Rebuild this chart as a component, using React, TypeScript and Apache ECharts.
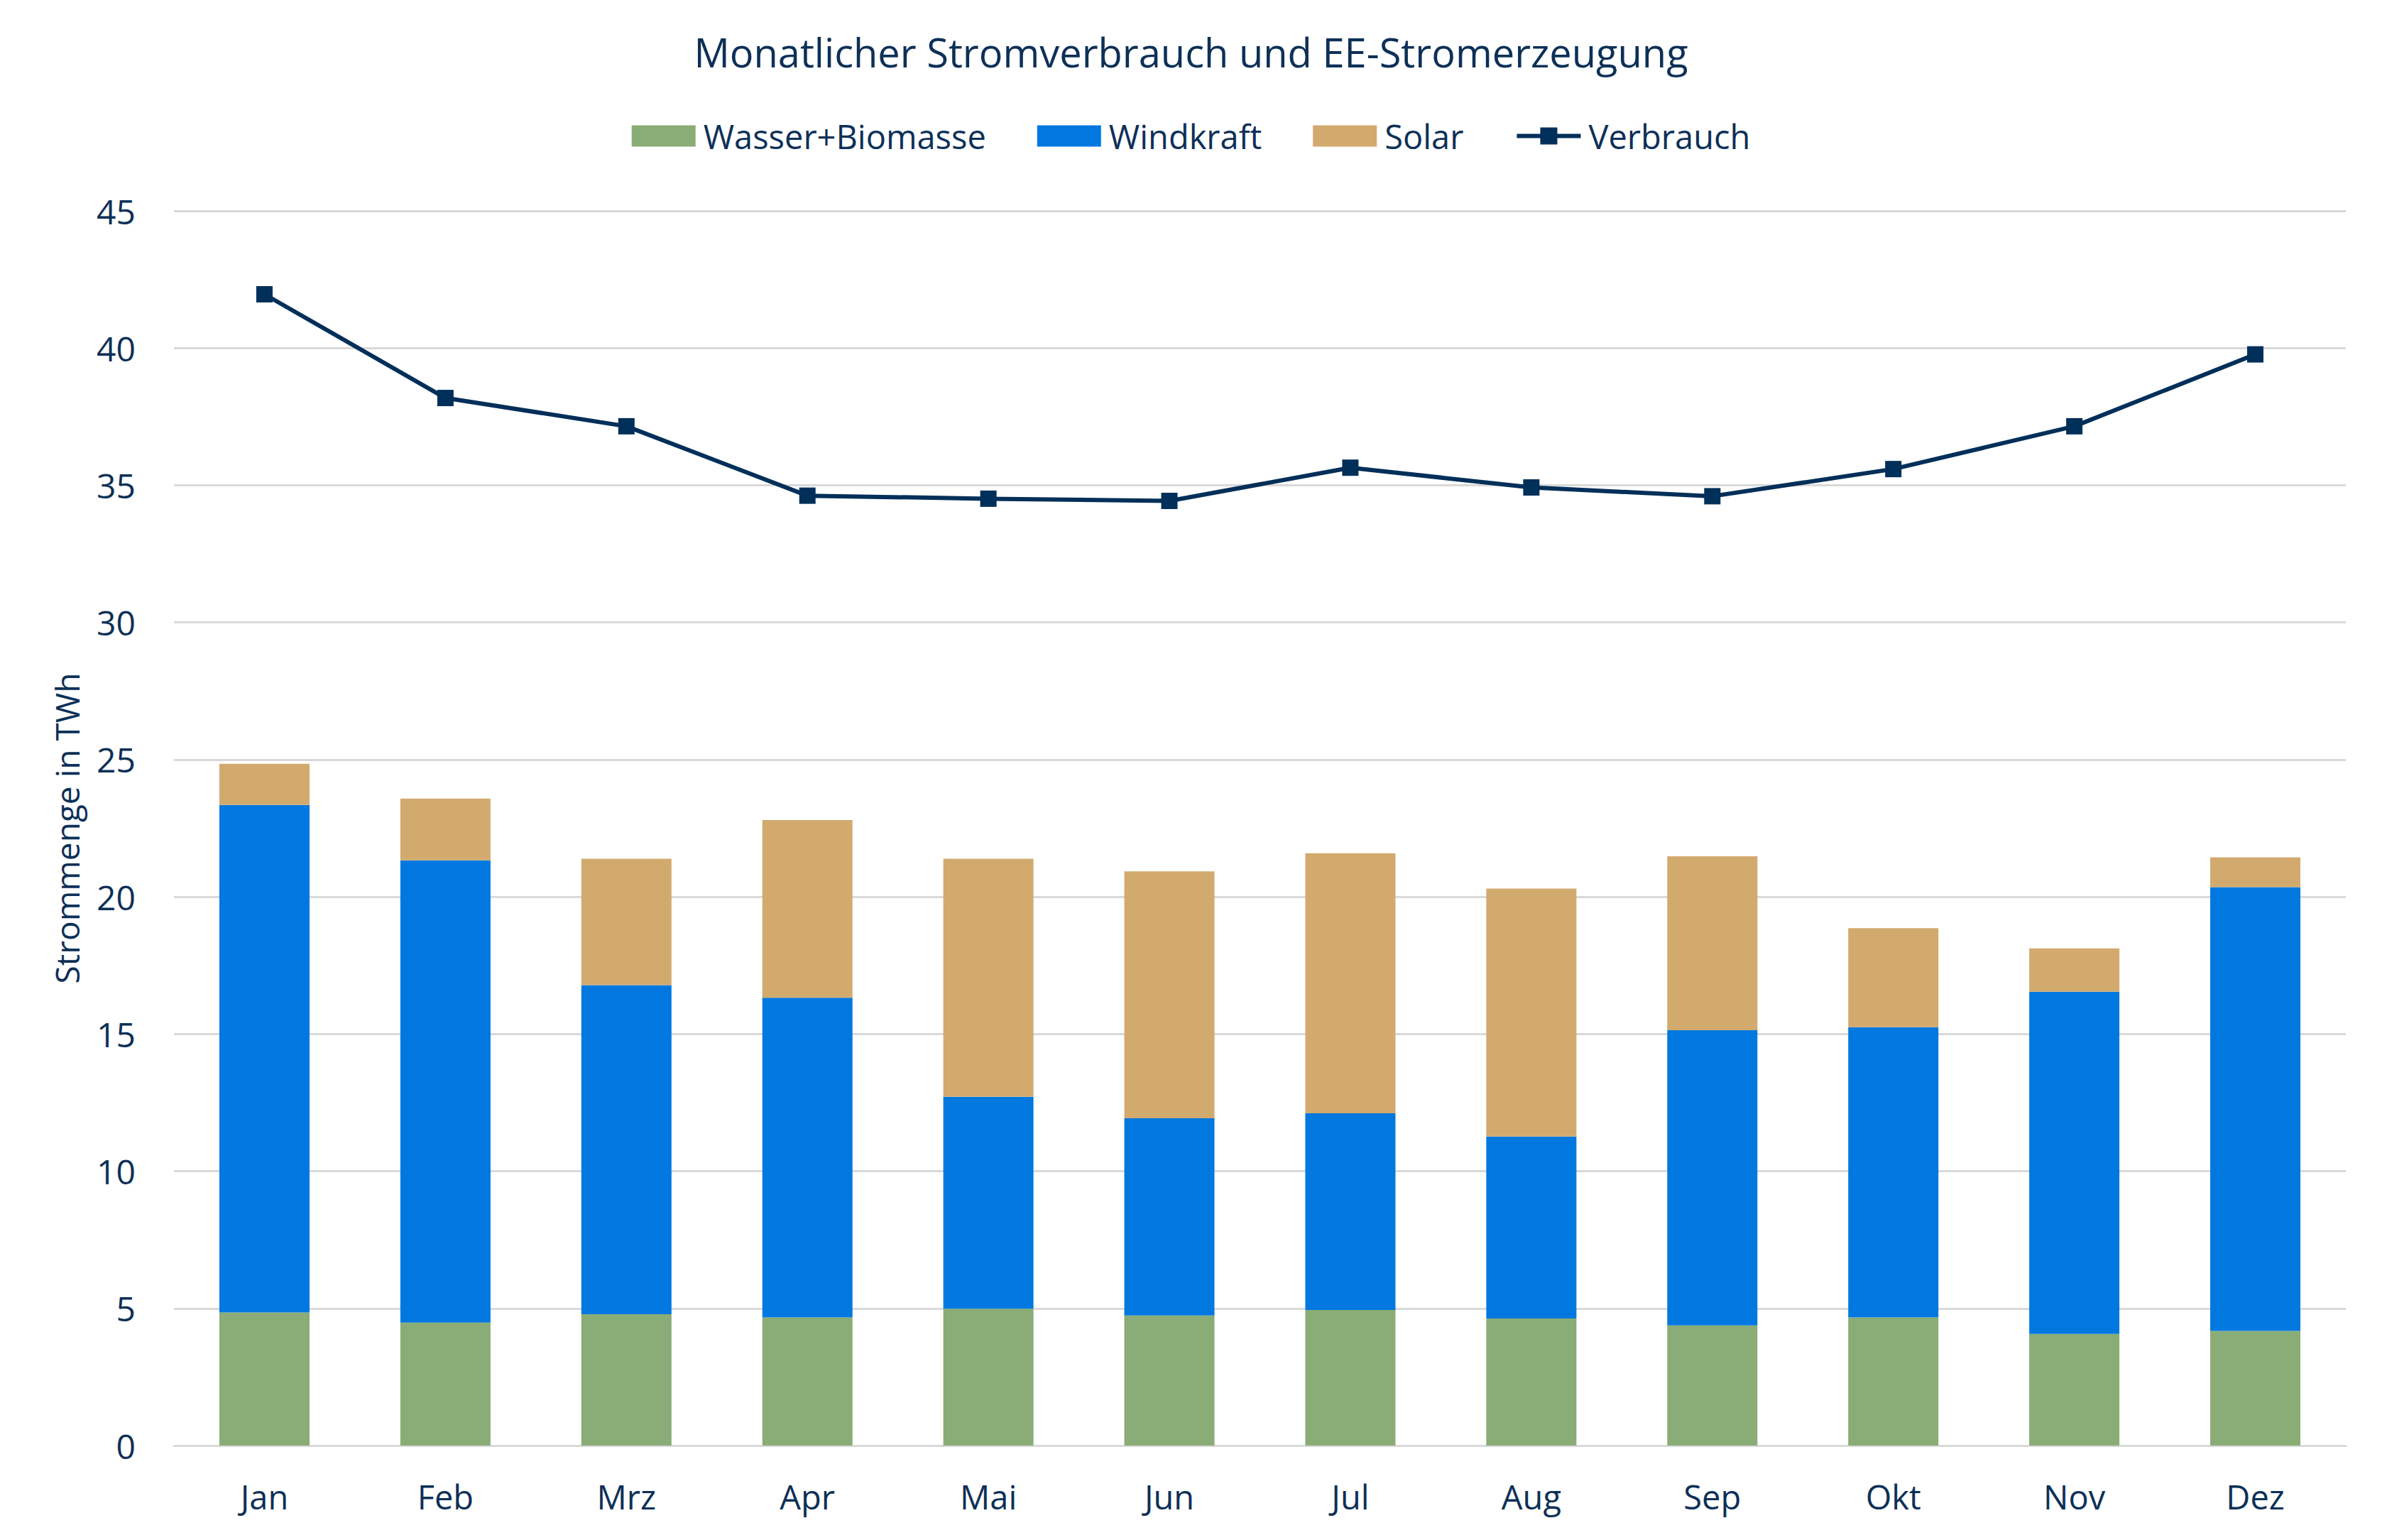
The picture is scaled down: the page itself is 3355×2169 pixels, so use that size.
import React, { useEffect, useRef } from "react";
import * as echarts from "echarts";

const months = ["Jan", "Feb", "Mrz", "Apr", "Mai", "Jun", "Jul", "Aug", "Sep", "Okt", "Nov", "Dez"];
const wasserBiomasse = [4.85, 4.48, 4.79, 4.67, 4.99, 4.74, 4.94, 4.63, 4.38, 4.67, 4.07, 4.18];
const windkraft = [18.5, 16.85, 11.99, 11.65, 7.72, 7.19, 7.17, 6.63, 10.76, 10.58, 12.47, 16.17];
const solar = [1.5, 2.25, 4.61, 6.48, 8.68, 9.0, 9.48, 9.04, 6.34, 3.61, 1.58, 1.09];
const verbrauch = [41.96, 38.18, 37.15, 34.62, 34.51, 34.43, 35.64, 34.92, 34.6, 35.59, 37.15, 39.77];
const yTicks = [0, 45, 5];

const TEXT = "#0d3057";
const LINE = "#002f59";
const FONT = "'Open Sans', 'Noto Sans', sans-serif";

export default function App() {
  const ref = useRef<HTMLDivElement>(null);
  useEffect(() => {
    if (!ref.current) return;
    const chart = echarts.init(ref.current, undefined, { renderer: "svg" });
    chart.setOption({
      animation: false,
      backgroundColor: "#ffffff",
      textStyle: { fontFamily: FONT, color: TEXT },
      title: {
        text: "Monatlicher Stromverbrauch und EE-Stromerzeugung",
        left: "center",
        top: 32,
        textStyle: { fontFamily: FONT, color: TEXT, fontSize: 56, fontWeight: "normal" },
      },
      legend: {
        top: 155,
        left: "center",
        itemWidth: 90,
        itemHeight: 30,
        itemGap: 72,
        textStyle: { fontFamily: FONT, color: TEXT, fontSize: 47, padding: [0, 0, 0, 6] },
        data: [
          { name: "Wasser+Biomasse", icon: "rect" },
          { name: "Windkraft", icon: "rect" },
          { name: "Solar", icon: "rect" },
          { name: "Verbrauch", lineStyle: { width: 6, color: LINE }, itemStyle: { color: LINE } },
        ],
      },
      grid: { left: 237, right: 43, top: 289, bottom: 125, containLabel: false },
      xAxis: {
        type: "category",
        data: months,
        axisLine: { show: true, lineStyle: { color: "#d9d9d9", width: 3 } },
        axisTick: { show: false },
        axisLabel: { color: TEXT, fontSize: 47, fontFamily: FONT, margin: 48 },
      },
      yAxis: {
        type: "value",
        min: yTicks[0],
        max: yTicks[1],
        interval: yTicks[2],
        name: "Strommenge in TWh",
        nameLocation: "middle",
        nameGap: 128,
        nameRotate: 90,
        nameTextStyle: { color: TEXT, fontSize: 46, fontFamily: FONT },
        axisLine: { show: false },
        axisTick: { show: false },
        axisLabel: { color: TEXT, fontSize: 48, fontFamily: FONT, margin: 54 },
        splitLine: { lineStyle: { color: "#d9d9d9", width: 3 } },
      },
      series: [
        {
          name: "Wasser+Biomasse",
          type: "bar",
          stack: "ee",
          data: wasserBiomasse,
          barWidth: 127,
          itemStyle: { color: "#8aac76" },
        },
        {
          name: "Windkraft",
          type: "bar",
          stack: "ee",
          data: windkraft,
          barWidth: 127,
          itemStyle: { color: "#0078e0" },
        },
        {
          name: "Solar",
          type: "bar",
          stack: "ee",
          data: solar,
          barWidth: 127,
          itemStyle: { color: "#d2aa6e" },
        },
        {
          name: "Verbrauch",
          type: "line",
          data: verbrauch,
          symbol: "rect",
          symbolSize: 23,
          lineStyle: { color: LINE, width: 6 },
          itemStyle: { color: LINE },
        },
      ],
    });
    return () => chart.dispose();
  }, []);
  return <div ref={ref} style={{ width: 3339, height: 2153 }} />;
}
